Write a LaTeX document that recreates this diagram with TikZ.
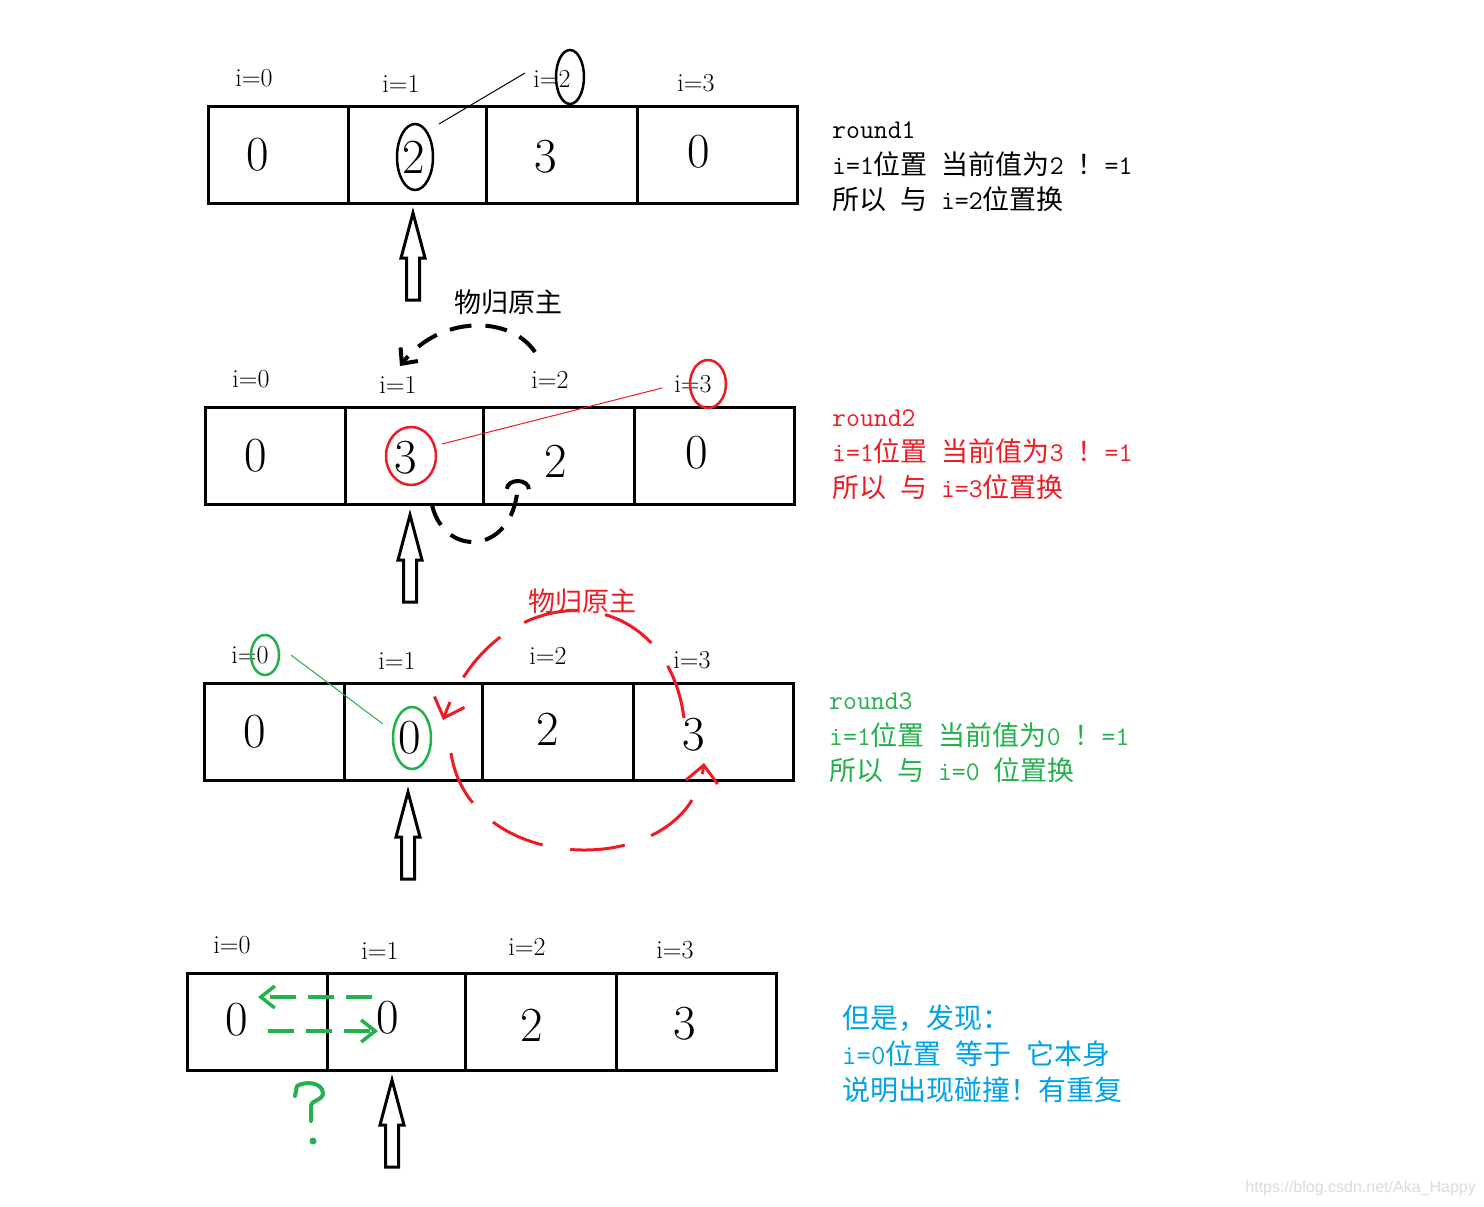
\documentclass[tikz,border=0pt]{standalone}
\usepackage{fontspec}
\newfontfamily\cjk{Noto Sans CJK SC}
\newfontfamily\wmfont{Liberation Sans}
\usetikzlibrary{arrows.meta,shapes.geometric}
\definecolor{pred}{RGB}{237,28,36}
\definecolor{pgreen}{RGB}{34,177,76}
\definecolor{pblue}{RGB}{0,162,232}
\tikzset{
  cell/.style={draw, line width=3pt, minimum height=97pt, inner sep=0pt, outer sep=0pt, anchor=north west},
  val/.style={font=\fontsize{49}{49}\selectfont, inner sep=0pt},
  idx/.style={font=\fontsize{26}{26}\selectfont, inner sep=0pt},
  note/.style={anchor=base west, inner sep=0pt, font=\ttfamily\fontsize{27}{27}\selectfont},
  bluenote/.style={anchor=base west, inner sep=0pt, font=\ttfamily\fontsize{28}{28}\selectfont, text=pblue},
  ring/.style={draw, ellipse, line width=2.5pt, inner sep=0pt},
  pointer/.style={line width=1pt},
  title/.style={font=\cjk\fontsize{27}{27}\selectfont, inner sep=0pt},
  blkdash/.style={line width=4pt, dash pattern=on 22pt off 14pt},
  reddash/.style={pred, line width=3pt, dash pattern=on 55pt off 28pt},
  grdash/.style={pgreen, line width=3.5pt, dash pattern=on 26pt off 12pt},
  vtip/.style={-{Straight Barb[length=14pt,width=22pt]}},
  redtip/.style={-{Straight Barb[length=17pt,width=32pt]}},
  uparr/.pic={\draw[line width=3pt, miter limit=25] (0,0) -- (12,45) -- (6.5,45) -- (6.5,87) -- (-6.5,87) -- (-6.5,45) -- (-12,45) -- cycle;}
}
\begin{document}
\begin{tikzpicture}[x=1pt,y=-1pt]
\fill[white] (0,0) rectangle (1484,1207);
\useasboundingbox (0,0) rectangle (1484,1207);

% array boxes
\foreach \r/\x/\y in {1/208/106,2/205/407,3/204/683,4/187/973}{
  \node[cell, minimum width=140pt] (c\r0) at (\x,\y) {};
  \node[cell, minimum width=138pt] (c\r1) at ({\x+140},\y) {};
  \node[cell, minimum width=151pt] (c\r2) at ({\x+278},\y) {};
  \node[cell, minimum width=160pt] (c\r3) at ({\x+429},\y) {};
}

% values
\foreach \n/\x/\y/\t in {v10/258/155/0, v11/414/157/2, v12/546/157/3, v13/699/152/0,
                          v20/256/456/0, v21/406/458/3, v22/556/461/2, v23/697/453/0,
                          v30/255/732/0, v31/410/738/0, v32/548/729/2, v33/694/735/3,
                          v40/237/1020/0, v41/388/1018/0, v42/532/1025/2, v43/685/1024/3}{
  \node[val] (\n) at (\x,\y) {\t};
}

% index labels
\foreach \n/\x/\y/\t in {l10/254/78/0, l11/401/84/1, l12/552/79/2, l13/696/83/3,
                          l20/251/379/0, l21/398/385/1, l22/550/380/2, l23/693/384/3,
                          l30/250/655/0, l31/397/661/1, l32/548/656/2, l33/692/660/3,
                          l40/232/945/0, l41/380/951/1, l42/527/947/2, l43/675/950/3}{
  \node[idx] (\n) at (\x,\y) {i=\t};
}

% pointer arrows
\pic (p1) at (413,213) {uparr};
\pic (p2) at (410,515) {uparr};
\pic (p3) at (408,792) {uparr};
\pic (p4) at (392,1080) {uparr};

% round 1 marks
\node[ring, minimum width=36pt, minimum height=66pt] (e1a) at (415,157) {};
\node[ring, minimum width=28pt, minimum height=54pt] (e1b) at (570,77) {};
\coordinate (k1a) at (439,124);
\coordinate (k1b) at (525,73);
\draw[pointer] (k1a) -- (k1b);

% round 2 marks
\node[ring, pred, minimum width=50pt, minimum height=58pt] (e2a) at (411,456) {};
\node[ring, pred, minimum width=36pt, minimum height=48pt] (e2b) at (708,384) {};
\coordinate (k2a) at (442,444);
\coordinate (k2b) at (662,388);
\draw[pointer, pred] (k2a) -- (k2b);
\node[title] (t2) at (508,302) {物归原主};
\coordinate (b1s) at (535,352);
\coordinate (b1e) at (400,366);
\draw[blkdash, -{Straight Barb[length=12pt,width=22pt]}] (b1s) .. controls (510,315) and (440,315) .. (b1e);
\coordinate (b2s) at (432,505);
\coordinate (b2e) at (518,479);
\draw[blkdash, -{Arc Barb[length=10pt,width=26pt]}] (b2s) .. controls (445,560) and (517,555) .. (b2e);

% round 3 marks
\node[ring, pgreen, minimum width=38pt, minimum height=62pt] (e3a) at (412,738) {};
\node[ring, pgreen, minimum width=28pt, minimum height=40pt] (e3b) at (265,655) {};
\coordinate (k3a) at (291,655);
\coordinate (k3b) at (383,724);
\draw[pointer, pgreen] (k3a) -- (k3b);
\node[title, text=pred] (t3) at (582,601) {物归原主};
\coordinate (r1s) at (684,718);
\coordinate (r1e) at (443,720);
\draw[reddash, redtip] (r1s) .. controls (665,575) and (495,575) .. (r1e);
\coordinate (r2s) at (451,753);
\coordinate (r2e) at (704,763);
\draw[reddash, redtip] (r2s) .. controls (470,880) and (690,880) .. (r2e);

% round 4 marks
\coordinate (g1s) at (372,997);
\coordinate (g1e) at (258,997);
\coordinate (g2s) at (268,1031);
\coordinate (g2e) at (378,1031);
\draw[grdash, vtip] (g1s) -- (g1e);
\draw[grdash, vtip] (g2s) -- (g2e);
\draw[pgreen, line width=4pt, line cap=round, line join=round]
  (295,1096) -- (297,1086) .. controls (305,1081) and (322,1082) .. (323,1093)
  .. controls (323,1101) and (312,1099) .. (311,1106) -- (311,1121);
\fill[pgreen] (313,1141) circle (3.5);

% notes
\node[note] (n1a) at (832,138) {round1};
\node[note] (n1b) at (832,174) {i=1{\cjk 位置} {\cjk 当前值为}2 {\cjk ！}=1};
\node[note] (n1c) at (832,209) {{\cjk 所以} {\cjk 与} i=2{\cjk 位置换}};

\node[note, text=pred] (n2a) at (832,426) {round2};
\node[note, text=pred] (n2b) at (832,461) {i=1{\cjk 位置} {\cjk 当前值为}3 {\cjk ！}=1};
\node[note, text=pred] (n2c) at (832,497) {{\cjk 所以} {\cjk 与} i=3{\cjk 位置换}};

\node[note, text=pgreen] (n3a) at (829,709) {round3};
\node[note, text=pgreen] (n3b) at (829,745) {i=1{\cjk 位置} {\cjk 当前值为}0 {\cjk ！}=1};
\node[note, text=pgreen] (n3c) at (829,780) {{\cjk 所以} {\cjk 与} i=0 {\cjk 位置换}};

\node[bluenote] (n4a) at (842,1028) {{\cjk 但是，发现：}};
\node[bluenote] (n4b) at (842,1064) {i=0{\cjk 位置} {\cjk 等于} {\cjk 它本身}};
\node[bluenote] (n4c) at (842,1100) {{\cjk 说明出现碰撞！有重复}};

% watermark
\node[anchor=east, inner sep=0pt, text=black!14, font=\wmfont\fontsize{16}{16}\selectfont] (wm) at (1476,1188) {https://blog.csdn.net/Aka\_Happy};
\end{tikzpicture}
\end{document}
